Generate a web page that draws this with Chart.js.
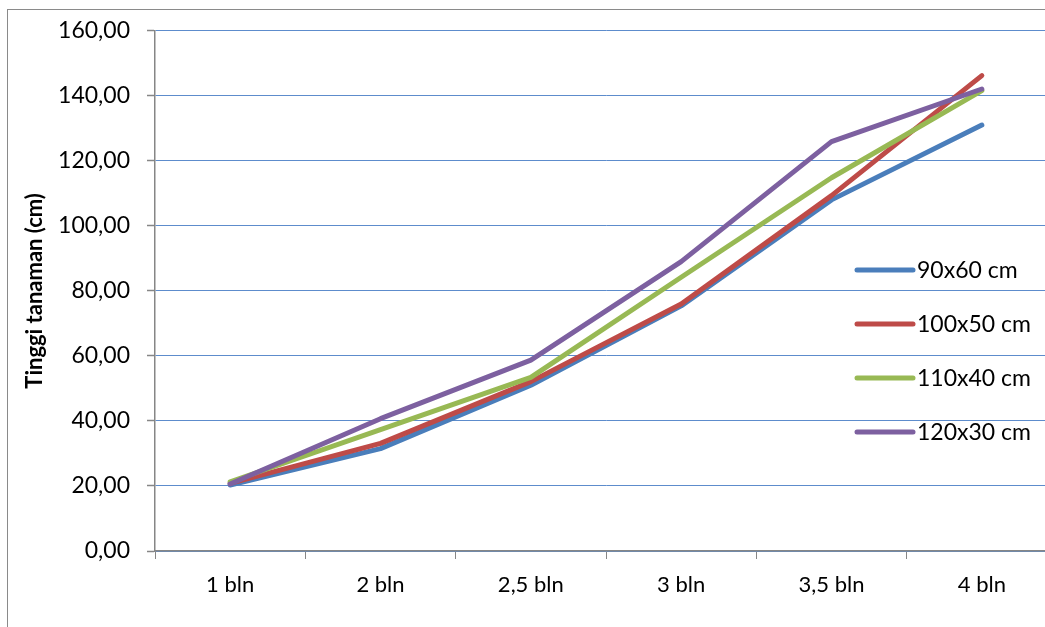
<!DOCTYPE html>
<html>
<head>
<meta charset="utf-8">
<script src="https://cdn.jsdelivr.net/npm/chart.js@4/dist/chart.umd.min.js"></script>
<style>
  html, body { margin: 0; padding: 0; background: #fff; overflow: hidden; width: 1045px; height: 627px; }
  #frame { position: absolute; left: 7px; top: 9px; width: 1100px; height: 700px; border: 1px solid #8a8a8a; box-sizing: border-box; }
  #wrap { position: absolute; left: 0; top: 0; width: 1060px; height: 627px; }
</style>
</head>
<body>
<div id="frame"></div>
<div id="wrap"><canvas id="c" width="1060" height="627"></canvas></div>
<script>
// Umur tanaman (bulan)
const categories = ['1 bln', '2 bln', '2,5 bln', '3 bln', '3,5 bln', '4 bln'];

// Tinggi tanaman (cm) per jarak tanam
const seriesNames = ['90x60 cm', '100x50 cm', '110x40 cm', '120x30 cm'];
const jarak90x60  = [20.3, 31.5, 51.0, 75.4, 108.0, 131.0];
const jarak100x50 = [20.8, 33.1, 52.1, 76.0, 109.3, 146.2];
const jarak110x40 = [21.3, 37.3, 53.4, 84.2, 114.8, 141.6];
const jarak120x30 = [20.6, 40.7, 58.7, 89.0, 125.9, 142.1];

const yTicks = [0, 20, 40, 60, 80, 100, 120, 140, 160];
const yTitle = 'Tinggi tanaman (cm)';

const colors = ['#4a7ebb', '#be4b48', '#98b954', '#7d60a0'];
const values = [jarak90x60, jarak100x50, jarak110x40, jarak120x30];

const FONT = 'Lato, "Open Sans", sans-serif';

// Legend drawn inside the plot area, on the right
const sideLegend = {
  id: 'sideLegend',
  afterDraw(chart, args, opts) {
    const ctx = chart.ctx;
    ctx.save();
    ctx.font = opts.fontSize + 'px ' + FONT;
    ctx.textBaseline = 'middle';
    ctx.textAlign = 'left';
    chart.data.datasets.forEach((ds, i) => {
      const y = opts.top + i * opts.rowGap;
      ctx.strokeStyle = ds.borderColor;
      ctx.lineWidth = 5;
      ctx.lineCap = 'round';
      ctx.beginPath();
      ctx.moveTo(opts.left, y);
      ctx.lineTo(opts.left + opts.sample, y);
      ctx.stroke();
      ctx.fillStyle = '#000';
      ctx.fillText(ds.label, opts.left + opts.sample + 4, y + 1);
    });
    ctx.restore();
  }
};

const datasets = seriesNames.map((name, i) => ({
  label: name,
  data: values[i],
  borderColor: colors[i],
  backgroundColor: colors[i],
  borderWidth: 5,
  pointRadius: 0,
  pointHoverRadius: 0,
  tension: 0,
  borderCapStyle: 'round',
  borderJoinStyle: 'round',
  fill: false,
  order: seriesNames.length - i
}));

new Chart(document.getElementById('c'), {
  type: 'line',
  data: { labels: categories, datasets },
  plugins: [sideLegend],
  options: {
    responsive: false,
    animation: false,
    layout: { padding: { top: 30, right: 3, bottom: 0, left: 0 } },
    plugins: {
      legend: { display: false },
      tooltip: { enabled: false },
      sideLegend: { left: 857, top: 270, rowGap: 54, sample: 56, fontSize: 23 }
    },
    scales: {
      x: {
        type: 'category',
        offset: true,
        grid: {
          offset: true,
          drawOnChartArea: false,
          drawTicks: true,
          tickLength: 8,
          tickColor: '#868686',
          tickWidth: 1
        },
        border: { color: '#868686', width: 1.5 },
        ticks: {
          color: '#000',
          padding: 13,
          font: { family: FONT, size: 22 },
          maxRotation: 0,
          autoSkip: false
        },
        afterFit(scale) { scale.height = 76; }
      },
      y: {
        min: 0,
        max: 160,
        afterBuildTicks(scale) { scale.ticks = yTicks.map(v => ({ value: v })); },
        grid: {
          color: '#5d8ccc',
          lineWidth: 1,
          drawTicks: true,
          tickLength: 8,
          tickColor: '#868686',
          tickWidth: 1.5
        },
        border: { color: '#868686', width: 1.5 },
        ticks: {
          color: '#000',
          padding: 17,
          font: { family: FONT, size: 23 },
          callback: (v) => Number(v).toFixed(2).replace('.', ',')
        },
        title: {
          display: true,
          text: yTitle,
          color: '#000',
          font: { family: FONT, size: 22, weight: 'bold' },
          padding: { top: 22, bottom: 0 }
        },
        afterFit(scale) { scale.width = 155; }
      }
    }
  }
});
</script>
</body>
</html>
